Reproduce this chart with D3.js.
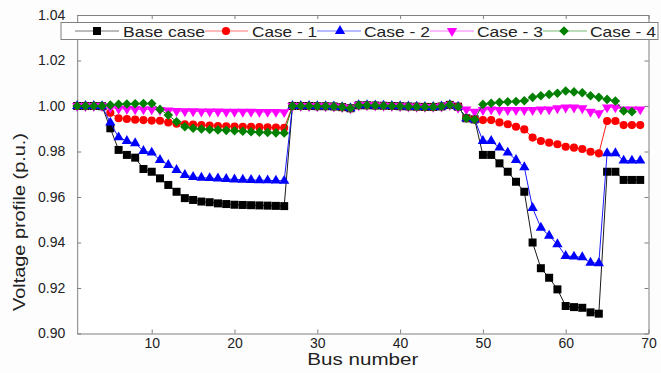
<!DOCTYPE html>
<html>
<head>
<meta charset="utf-8">
<script src="https://cdn.jsdelivr.net/npm/d3@7"></script>
<style>
  body { margin: 0; background: #fff; }
  svg { display: block; font-family: "Liberation Sans", Arial, sans-serif; }
  .axis path, .axis line { stroke: #808080; }
  .axis text { fill: #222; font-size: 14px; font-family: "Liberation Sans", Arial, sans-serif; }
</style>
</head>
<body>
<svg id="chart" width="661" height="373"></svg>
<script>
// bus numbers (IEEE 69-bus)
const buses = [1,2,3,4,5,6,7,8,9,10,11,12,13,14,15,16,17,18,19,20,21,22,23,
  24,25,26,27,28,29,30,31,32,33,34,35,36,37,38,39,40,41,42,43,44,45,46,47,48,
  49,50,51,52,53,54,55,56,57,58,59,60,61,62,63,64,65,66,67,68,69];

const baseCase = [1.0000,1.0000,1.0000,0.9999,0.9902,0.9807,0.9785,0.9773,0.9723,0.9711,
  0.9682,0.9653,0.9623,0.9595,0.9587,0.9580,0.9577,0.9572,0.9569,0.9566,
  0.9565,0.9564,0.9563,0.9562,0.9561,0.9560,1.0000,1.0000,1.0000,0.9999,
  0.9999,0.9998,0.9995,0.9990,1.0003,1.0003,1.0002,1.0001,1.0000,0.9999,
  0.9998,0.9997,0.9996,0.9996,0.9998,1.0005,0.9997,0.9946,0.9941,0.9785,
  0.9785,0.9748,0.9711,0.9667,0.9623,0.9400,0.9287,0.9245,0.9194,0.9121,
  0.9116,0.9113,0.9093,0.9087,0.9711,0.9711,0.9675,0.9675,0.9675];

const case1 = [1.0000,1.0000,1.0000,0.9999,0.9970,0.9946,0.9943,0.9940,0.9938,0.9936,
  0.9935,0.9928,0.9922,0.9920,0.9918,0.9916,0.9914,0.9912,0.9911,0.9910,
  0.9909,0.9908,0.9907,0.9906,0.9905,0.9904,1.0000,1.0000,1.0000,0.9999,
  0.9999,0.9998,0.9995,0.9990,1.0003,1.0003,1.0002,1.0001,1.0000,0.9999,
  0.9998,0.9997,0.9996,0.9996,0.9998,1.0005,0.9997,0.9946,0.9941,0.9938,
  0.9938,0.9928,0.9920,0.9909,0.9897,0.9861,0.9846,0.9839,0.9832,0.9821,
  0.9817,0.9811,0.9799,0.9792,0.9934,0.9934,0.9916,0.9916,0.9916];

const case2 = [1.0000,1.0000,1.0000,0.9999,0.9927,0.9862,0.9846,0.9836,0.9802,0.9795,
  0.9763,0.9741,0.9719,0.9697,0.9688,0.9685,0.9683,0.9681,0.9679,0.9677,
  0.9676,0.9675,0.9674,0.9673,0.9672,0.9671,1.0000,1.0000,1.0000,0.9999,
  0.9999,0.9998,0.9995,0.9990,1.0003,1.0003,1.0002,1.0001,1.0000,0.9999,
  0.9998,0.9997,0.9996,0.9996,0.9998,1.0005,0.9997,0.9946,0.9941,0.9846,
  0.9846,0.9817,0.9795,0.9763,0.9731,0.9552,0.9465,0.9430,0.9392,0.9341,
  0.9338,0.9335,0.9311,0.9309,0.9792,0.9792,0.9760,0.9760,0.9760];

const case3 = [1.0000,1.0000,1.0000,1.0000,0.9993,0.9988,0.9987,0.9986,0.9985,0.9985,
  0.9982,0.9980,0.9978,0.9977,0.9977,0.9976,0.9976,0.9976,0.9975,0.9975,
  0.9975,0.9975,0.9974,0.9974,0.9974,0.9973,1.0000,1.0000,1.0000,0.9999,
  0.9999,0.9998,0.9995,0.9990,1.0003,1.0003,1.0002,1.0001,1.0000,0.9999,
  0.9998,0.9997,0.9996,0.9996,0.9998,1.0005,0.9992,0.9985,0.9975,0.9982,
  0.9985,0.9982,0.9982,0.9982,0.9982,0.9982,0.9985,0.9985,0.9990,0.9993,
  0.9993,0.9990,0.9975,0.9968,0.9994,0.9994,0.9985,0.9985,0.9985];

const case4 = [1.0000,1.0000,1.0000,1.0000,1.0004,1.0008,1.0009,1.0010,1.0011,1.0011,
  0.9985,0.9960,0.9931,0.9909,0.9902,0.9899,0.9897,0.9895,0.9893,0.9891,
  0.9889,0.9887,0.9885,0.9884,0.9882,0.9881,1.0000,1.0000,1.0000,0.9999,
  0.9999,0.9998,0.9995,0.9990,1.0003,1.0003,1.0002,1.0001,1.0000,0.9999,
  0.9998,0.9997,0.9996,0.9996,0.9998,1.0005,0.9997,0.9946,0.9941,1.0007,
  1.0012,1.0016,1.0019,1.0020,1.0023,1.0038,1.0045,1.0051,1.0056,1.0066,
  1.0062,1.0058,1.0045,1.0038,1.0029,1.0022,0.9978,0.9975,null];

const seriesNames = ["Base case", "Case - 1", "Case - 2", "Case - 3", "Case - 4"];
const xTicks = [10, 20, 30, 40, 50, 60, 70];
const yTicks = [0.90, 0.92, 0.94, 0.96, 0.98, 1.00, 1.02, 1.04];

const series = [
  { name: seriesNames[0], values: baseCase, color: "#000000", shape: "square" },
  { name: seriesNames[1], values: case1, color: "#ff0000", shape: "circle" },
  { name: seriesNames[2], values: case2, color: "#0000ff", shape: "triangle" },
  { name: seriesNames[3], values: case3, color: "#ff00ff", shape: "triangleDown" },
  { name: seriesNames[4], values: case4, color: "#008000", shape: "diamond" },
];

const svg = d3.select("#chart");
const plotLeft = 77.2, plotRight = 648.5, plotTop = 15, plotBottom = 333.5;

const x = d3.scaleLinear().domain([1, 70]).range([plotLeft, plotRight]);
const y = d3.scaleLinear().domain([0.90, 1.04]).range([plotBottom, plotTop]);

svg.append("rect").attr("width", 661).attr("height", 373).attr("fill", "#fdfdfd");
svg.append("rect")
  .attr("x", plotLeft).attr("y", plotTop)
  .attr("width", plotRight - plotLeft).attr("height", plotBottom - plotTop)
  .attr("fill", "#ffffff");

// axes, ticks pointing inward
svg.append("g").attr("class", "axis")
  .attr("transform", `translate(0,${plotBottom})`)
  .call(d3.axisBottom(x).tickValues(xTicks).tickSize(-4).tickSizeOuter(0).tickPadding(5));
svg.append("g").attr("class", "axis")
  .attr("transform", `translate(0,${plotTop})`)
  .call(d3.axisTop(x).tickValues(xTicks).tickSize(-4).tickSizeOuter(0).tickFormat(""));
svg.append("g").attr("class", "axis")
  .attr("transform", `translate(${plotLeft},0)`)
  .call(d3.axisLeft(y).tickValues(yTicks).tickSize(-4).tickSizeOuter(0).tickPadding(12).tickFormat(d3.format(".2f")));
svg.append("g").attr("class", "axis")
  .attr("transform", `translate(${plotRight},0)`)
  .call(d3.axisRight(y).tickValues(yTicks).tickSize(-4).tickSizeOuter(0).tickFormat(""));

// markers
function markerPath(shape) {
  if (shape === "square") return d3.symbol(d3.symbolSquare, 64)();
  if (shape === "circle") return d3.symbol(d3.symbolCircle, 52)();
  if (shape === "triangle" || shape === "triangleDown") return d3.symbol(d3.symbolTriangle, 46)();
  return d3.symbol(d3.symbolSquare, 46)();
}
function markerRotate(shape) {
  if (shape === "triangleDown") return 180;
  if (shape === "diamond") return 45;
  return 0;
}

const plot = svg.append("g");
const line = d3.line()
  .defined(d => d.v != null)
  .x(d => x(d.bus))
  .y(d => y(d.v));

series.forEach(s => {
  const pts = buses.map((b, i) => ({ bus: b, v: s.values[i] }));
  const g = plot.append("g");
  g.append("path")
    .datum(pts)
    .attr("fill", "none")
    .attr("stroke", s.color)
    .attr("stroke-width", 0.9)
    .attr("d", line);
  g.selectAll("path.m")
    .data(pts.filter(d => d.v != null))
    .join("path")
    .attr("class", "m")
    .attr("d", markerPath(s.shape))
    .attr("fill", s.color)
    .attr("transform", d => `translate(${x(d.bus)},${y(d.v)}) rotate(${markerRotate(s.shape)})`);
});

// legend
const legend = svg.append("g");
legend.append("rect")
  .attr("x", 61).attr("y", 22.5)
  .attr("width", 597).attr("height", 17)
  .attr("fill", "#ffffff").attr("stroke", "#808080").attr("stroke-width", 1);

const legendLayout = [
  { x0: 75, x1: 119, m: 97, tx: 123, tw: 82 },
  { x0: 205, x1: 248, m: 226, tx: 252, tw: 65 },
  { x0: 317, x1: 361, m: 340, tx: 364, tw: 66 },
  { x0: 430, x1: 474, m: 452, tx: 477, tw: 66 },
  { x0: 543, x1: 587, m: 564, tx: 590, tw: 66 },
];
series.forEach((s, i) => {
  const L = legendLayout[i];
  legend.append("line")
    .attr("x1", L.x0).attr("x2", L.x1).attr("y1", 31).attr("y2", 31)
    .attr("stroke", s.color).attr("stroke-width", 0.9).attr("stroke-opacity", 0.6);
  legend.append("path")
    .attr("d", markerPath(s.shape))
    .attr("fill", s.color)
    .attr("transform", `translate(${L.m},31) rotate(${markerRotate(s.shape)})`);
  legend.append("text")
    .attr("x", L.tx).attr("y", 36.5)
    .attr("font-size", 14.5)
    .attr("fill", "#222")
    .attr("textLength", L.tw)
    .attr("lengthAdjust", "spacingAndGlyphs")
    .text(s.name);
});

// axis titles
svg.append("text")
  .attr("x", (plotLeft + plotRight) / 2).attr("y", 365)
  .attr("text-anchor", "middle")
  .attr("font-size", 16)
  .attr("fill", "#222")
  .attr("textLength", 111)
  .attr("lengthAdjust", "spacingAndGlyphs")
  .text("Bus number");

svg.append("text")
  .attr("transform", "translate(25,222) rotate(-90)")
  .attr("text-anchor", "middle")
  .attr("font-size", 16)
  .attr("fill", "#222")
  .attr("textLength", 178)
  .attr("lengthAdjust", "spacingAndGlyphs")
  .text("Voltage profile (p.u.)");
</script>
</body>
</html>
